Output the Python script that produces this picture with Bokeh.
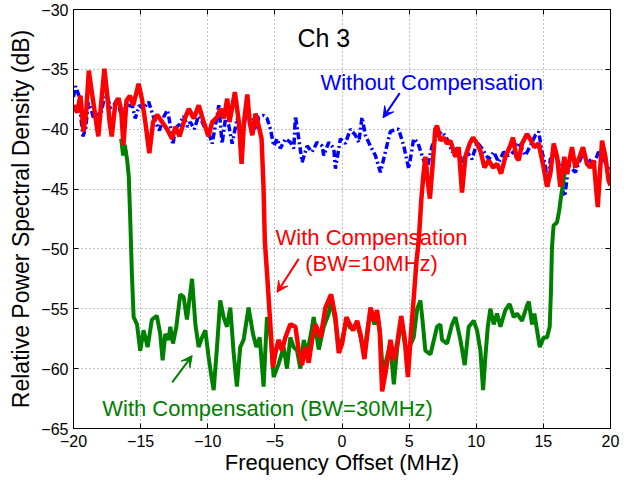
from bokeh.plotting import figure
from bokeh.models import Range1d, FixedTicker, LinearAxis, Label, Arrow, VeeHead
from bokeh.embed import file_html
from bokeh.resources import INLINE

# ---------------- data ----------------
x_ticks = [-20, -15, -10, -5, 0, 5, 10, 15, 20]
y_ticks = [-65, -60, -55, -50, -45, -40, -35, -30]

# Without compensation (blue, dash-dot)
blue_x = [-20.0, -19.85, -19.6, -19.45, -19.3, -19.1, -18.9, -18.7, -18.5, -18.25,
          -18.0, -17.75, -17.5, -17.25, -17.0, -16.75, -16.5, -16.2, -15.9, -15.6,
          -15.4, -15.1, -14.8, -14.4, -14.1, -13.85, -13.6, -13.3, -13.0, -12.8,
          -12.6, -12.4, -12.1, -11.8, -11.5, -11.3, -11.0, -10.7, -10.45, -10.17,
          -9.95, -9.67, -9.4, -9.18, -8.93, -8.68, -8.45, -8.18, -7.81, -7.44,
          -7.07, -6.7, -6.45, -6.2, -5.83, -5.58, -5.33, -5.08, -4.83, -4.59,
          -4.21, -3.84, -3.59, -3.47, -3.22, -2.97, -2.6, -2.23, -1.86, -1.48,
          -1.36, -0.99, -0.61, -0.49, -0.12, 0.25, 0.62, 1.0, 1.25, 1.49,
          1.74, 2.11, 2.49, 2.86, 3.23, 3.6, 3.98, 4.22, 4.6, 4.97,
          5.34, 5.64, 5.96, 6.33, 6.71, 7.08, 7.45, 7.82, 8.2, 8.57,
          8.94, 9.31, 9.68, 10.06, 10.43, 10.92, 11.3, 11.67, 12.04, 12.41,
          12.78, 13.16, 13.65, 14.03, 14.4, 14.65, 14.9, 15.14, 15.35, 15.51,
          15.89, 16.14, 16.4, 16.6, 16.88, 17.38, 17.87, 18.37, 18.74, 19.11,
          19.49, 19.86, 20.0]
blue_y = [-37.3, -36.4, -37.2, -39.0, -40.6, -40.0, -37.8, -38.3, -39.1, -38.6,
          -39.0, -37.6, -37.2, -38.2, -38.0, -37.5, -38.6, -38.3, -38.0, -38.1,
          -39.1, -38.0, -38.3, -37.7, -38.8, -39.5, -40.1, -39.0, -38.4, -39.6,
          -41.3, -39.9, -39.6, -38.9, -39.8, -39.4, -40.0, -38.9, -39.3, -40.0,
          -40.2, -41.2, -39.5, -38.0, -41.2, -39.1, -39.6, -41.2, -39.1, -40.5,
          -38.3, -39.4, -40.1, -39.0, -38.85, -39.1, -40.0, -41.4, -40.8, -41.6,
          -40.8, -41.1, -41.6, -38.9, -40.8, -42.75, -41.4, -41.9, -41.1, -41.4,
          -42.2, -41.1, -41.6, -43.3, -40.8, -41.2, -40.0, -40.5, -41.1, -39.0,
          -40.5, -41.4, -42.2, -43.6, -41.9, -40.2, -40.0, -40.0, -41.4, -43.3,
          -40.8, -41.1, -42.2, -43.3, -41.4, -40.5, -40.2, -40.8, -41.9, -41.6,
          -42.75, -41.9, -42.5, -41.1, -41.6, -42.5, -41.9, -42.75, -41.9, -42.2,
          -41.9, -41.1, -42.2, -41.4, -40.5, -40.2, -41.9, -43.0, -44.8, -42.5,
          -42.2, -42.75, -45.0, -45.6, -43.0, -43.6, -42.2, -42.5, -43.0, -41.9,
          -42.5, -43.3, -43.0]

# With compensation, BW = 10 MHz (red)
red_x = [-20.0, -19.93, -19.73, -19.48, -19.25, -19.05, -18.86, -18.65, -18.49, -18.3,
         -18.15, -17.95, -17.7, -17.5, -17.3, -17.15, -16.9, -16.65, -16.45, -16.28,
         -16.05, -15.8, -15.55, -15.15, -14.9, -14.65, -14.35, -14.07, -13.77, -13.4,
         -13.03, -12.66, -12.41, -12.1, -11.7, -11.41, -11.04, -10.67, -10.3, -9.95,
         -9.67, -9.3, -9.05, -8.8, -8.55, -8.38, -7.98, -7.68, -7.48, -7.3,
         -7.05, -6.88, -6.68, -6.44, -6.19, -5.99, -5.85, -5.75, -5.58, -5.34,
         -5.14, -4.97, -4.72, -4.47, -4.22, -3.85, -3.47, -3.22, -2.98, -2.73,
         -2.48, -2.23, -1.98, -1.6, -1.23, -0.81, -0.49, -0.24, 0.01, 0.33,
         0.58, 0.83, 1.13, 1.37, 1.67, 1.92, 2.12, 2.41, 2.61, 2.81,
         2.99, 3.31, 3.61, 3.86, 4.11, 4.41, 4.66, 4.91, 5.1, 5.35,
         5.55, 5.72, 5.9, 6.05, 6.21, 6.35, 6.55, 6.75, 6.95, 7.08,
         7.33, 7.58, 7.83, 8.07, 8.45, 8.69, 8.94, 9.19, 9.51, 9.76,
         10.06, 10.31, 10.61, 10.93, 11.25, 11.55, 11.85, 12.17, 12.49, 12.74,
         12.99, 13.16, 13.41, 13.78, 14.08, 14.33, 14.65, 15.02, 15.27, 15.52,
         15.77, 16.02, 16.26, 16.56, 16.76, 17.13, 17.38, 17.7, 17.95, 18.25,
         18.5, 18.75, 19.05, 19.37, 19.62, 19.86, 20.0]
red_y = [-38.0, -38.15, -38.6, -37.2, -40.2, -38.5, -35.1, -36.8, -38.0, -39.5,
         -40.6, -38.0, -34.95, -37.0, -39.5, -40.6, -38.0, -37.4, -38.4, -41.3,
         -37.6, -37.2, -38.0, -36.2, -37.5, -39.4, -42.0, -39.4, -38.8, -39.4,
         -40.0, -40.8, -39.8, -40.6, -39.1, -38.3, -39.1, -38.0, -39.4, -40.6,
         -39.4, -39.0, -38.3, -39.1, -37.45, -39.4, -36.9, -39.4, -42.9, -39.4,
         -37.1, -39.4, -40.5, -38.7, -39.8, -40.8, -44.7, -49.3, -52.1, -56.3,
         -59.9, -58.7, -57.6, -58.5, -57.4, -56.3, -56.5, -58.5, -59.7, -58.2,
         -59.5, -57.6, -56.3, -57.4, -54.9, -53.8, -55.7, -58.7, -57.9, -55.7,
         -56.3, -56.8, -56.0, -57.1, -59.2, -56.8, -54.9, -56.0, -55.1, -56.8,
         -61.9, -59.9, -57.6, -59.3, -57.9, -55.6, -57.4, -60.7, -57.6, -54.0,
         -51.0, -49.3, -46.0, -44.0, -42.3, -44.0, -45.8, -43.0, -40.0, -39.7,
         -40.95, -40.7, -41.2, -40.95, -42.3, -41.5, -45.3, -42.3, -41.2, -40.7,
         -41.2, -41.8, -43.2, -42.6, -43.2, -42.9, -43.7, -42.3, -41.5, -40.7,
         -42.3, -42.6, -41.2, -40.4, -40.95, -41.5, -41.2, -43.2, -44.8, -43.7,
         -41.2, -42.3, -44.8, -42.3, -43.7, -41.5, -43.2, -42.3, -41.5, -42.9,
         -43.2, -42.6, -46.5, -40.95, -42.3, -44.3, -44.7]

# With compensation, BW = 30 MHz (green)
green_x = [-16.45, -16.3, -16.18, -16.0, -15.88, -15.76, -15.65, -15.52, -15.27, -15.03,
           -14.78, -14.48, -14.16, -13.79, -13.54, -13.36, -13.16, -12.92, -12.79, -12.59,
           -12.34, -12.05, -11.8, -11.55, -11.17, -10.92, -10.68, -10.43, -10.18, -9.94,
           -9.76, -9.56, -9.31, -9.07, -8.82, -8.57, -8.32, -8.07, -7.83, -7.58,
           -7.33, -6.96, -6.63, -6.38, -6.13, -5.84, -5.59, -5.34, -5.09, -4.72,
           -4.34, -4.1, -3.85, -3.6, -3.35, -3.1, -2.85, -2.6, -2.3, -2.11,
           -1.73, -1.36, -0.99, -0.81, -0.5, -0.24, 0.05, 0.35, 0.6, 0.85,
           1.15, 1.4, 1.67, 1.92, 2.12, 2.41, 2.61, 2.85, 3.05, 3.31,
           3.6, 3.86, 4.11, 4.41, 4.66, 4.9, 5.1, 5.34, 5.6, 5.84,
           6.0, 6.21, 6.59, 7.08, 7.33, 7.45, 7.83, 8.2, 8.45, 8.82,
           9.14, 9.44, 9.81, 10.06, 10.31, 10.51, 10.68, 10.86, 11.05, 11.3,
           11.55, 11.8, 12.17, 12.49, 12.79, 13.04, 13.41, 13.73, 13.91, 14.16,
           14.33, 14.53, 14.73, 15.02, 15.27, 15.47, 15.57, 15.64, 15.76, 16.01,
           16.18, 16.33, 16.43, 16.6]
green_y = [-40.8, -42.2, -41.3, -42.6, -44.0, -48.0, -52.1, -55.7, -56.3, -58.5,
           -56.8, -58.2, -55.9, -55.6, -57.1, -59.3, -57.1, -57.6, -56.5, -57.9,
           -56.5, -53.8, -54.0, -55.9, -52.5, -56.3, -58.2, -57.4, -56.8, -59.0,
           -60.4, -61.8, -58.2, -54.3, -55.7, -56.5, -54.9, -58.7, -61.5, -58.2,
           -57.6, -54.9, -57.1, -58.2, -57.4, -61.5, -55.7, -57.1, -60.7, -59.6,
           -58.2, -60.0, -57.4, -58.2, -58.5, -60.0, -57.6, -58.7, -57.0, -55.7,
           -58.4, -56.5, -55.4, -54.2, -56.0, -58.4, -57.4, -55.9, -56.6, -56.5,
           -56.4, -57.4, -58.8, -56.5, -55.3, -56.3, -55.5, -57.2, -60.5, -59.2,
           -58.0, -61.3, -58.3, -56.0, -57.8, -58.8, -58.0, -57.4, -55.0, -54.3,
           -56.0, -58.5, -58.8, -56.5, -56.3, -57.6, -57.9, -56.3, -55.7, -57.6,
           -59.7, -56.5, -56.0, -56.8, -58.5, -61.8, -59.0, -56.5, -55.0, -56.3,
           -55.4, -56.5, -55.1, -54.6, -55.7, -55.4, -56.0, -54.9, -54.4, -56.3,
           -55.4, -56.8, -58.2, -57.4, -57.4, -56.5, -53.4, -49.9, -48.05, -47.8,
           -46.8, -45.5, -44.8, -43.5]

# ---------------- figure ----------------
FONT = "Liberation Sans"
BLUE, RED, GREEN = "#0000FF", "#FF0000", "#008000"

p = figure(width=640, height=478,
           x_range=Range1d(-20, 20), y_range=Range1d(-65, -30),
           output_backend="svg", toolbar_location=None,
           min_border_left=73, min_border_right=30,
           min_border_top=9, min_border_bottom=50)
p.background_fill_color = "white"
p.border_fill_color = "white"
p.outline_line_color = "black"
p.outline_line_width = 1

p.xaxis.ticker = FixedTicker(ticks=x_ticks)
p.yaxis.ticker = FixedTicker(ticks=y_ticks)
for ax in p.xaxis + p.yaxis:
    ax.major_tick_in = 5
    ax.major_tick_out = 0
    ax.minor_tick_in = 0
    ax.minor_tick_out = 0
    ax.axis_line_color = "black"
    ax.major_tick_line_color = "black"
    ax.major_label_text_font = FONT
    ax.major_label_text_font_size = "16px"
    ax.major_label_text_color = "black"
    ax.axis_label_text_font = FONT
    ax.axis_label_text_font_style = "normal"
    ax.axis_label_text_color = "black"
p.xaxis.axis_label_text_font_size = "22px"
p.yaxis.axis_label_text_font_size = "23px"
p.xaxis.major_label_standoff = 6
p.yaxis.major_label_standoff = 5
p.xaxis.axis_label = "Frequency Offset (MHz)"
p.yaxis.axis_label = "Relative Power Spectral Density (dB)"
p.xaxis.axis_label_standoff = 0
p.yaxis.axis_label_standoff = 4

# mirrored axes on top and right (ticks only, no labels)
for loc in ("above", "right"):
    ticks = x_ticks if loc == "above" else y_ticks
    ax = LinearAxis(ticker=FixedTicker(ticks=[], minor_ticks=ticks))
    ax.major_tick_in = 0
    ax.major_tick_out = 0
    ax.minor_tick_in = 5
    ax.minor_tick_out = 0
    ax.minor_tick_line_color = "black"
    ax.axis_line_color = "black"
    p.add_layout(ax, loc)

p.grid.grid_line_color = "#7f7f7f"
p.grid.grid_line_dash = "1 3"
p.grid.grid_line_width = 1
p.xgrid.ticker = FixedTicker(ticks=x_ticks)
p.ygrid.ticker = FixedTicker(ticks=y_ticks)

# ---------------- series ----------------
p.line(blue_x, blue_y, line_color=BLUE, line_width=3.5, line_dash="7 3 2 3")
p.line(green_x, green_y, line_color=GREEN, line_width=4)
p.line(red_x, red_y, line_color=RED, line_width=4.5)

# ---------------- annotations ----------------
def lab(x, y, text, color, size="22px", align="left"):
    p.add_layout(Label(x=x, y=y, text=text, text_color=color, text_font=FONT,
                       text_font_size=size, text_align=align,
                       text_baseline="alphabetic"))

lab(-3.32, -32.34, "Ch 3", "black", size="25px")
lab(-1.61, -36.1, "Without Compensation", BLUE)
lab(2.2, -49.05, "With Compensation", RED, align="center")
lab(2.2, -51.2, "(BW=10MHz)", RED, align="center")
lab(-17.86, -63.33, "With Compensation (BW=30MHz)", GREEN)

for (xs, ys, xe, ye, c) in [(4.30, -36.99, 3.06, -39.05, BLUE),
                            (-3.22, -50.83, -4.83, -53.62, RED),
                            (-12.65, -61.14, -11.16, -58.91, GREEN)]:
    p.add_layout(Arrow(end=VeeHead(size=11, fill_color=c, line_color=c),
                       x_start=xs, y_start=ys, x_end=xe, y_end=ye,
                       line_color=c, line_width=2))

open("out.html", "w").write(file_html(p, INLINE))
